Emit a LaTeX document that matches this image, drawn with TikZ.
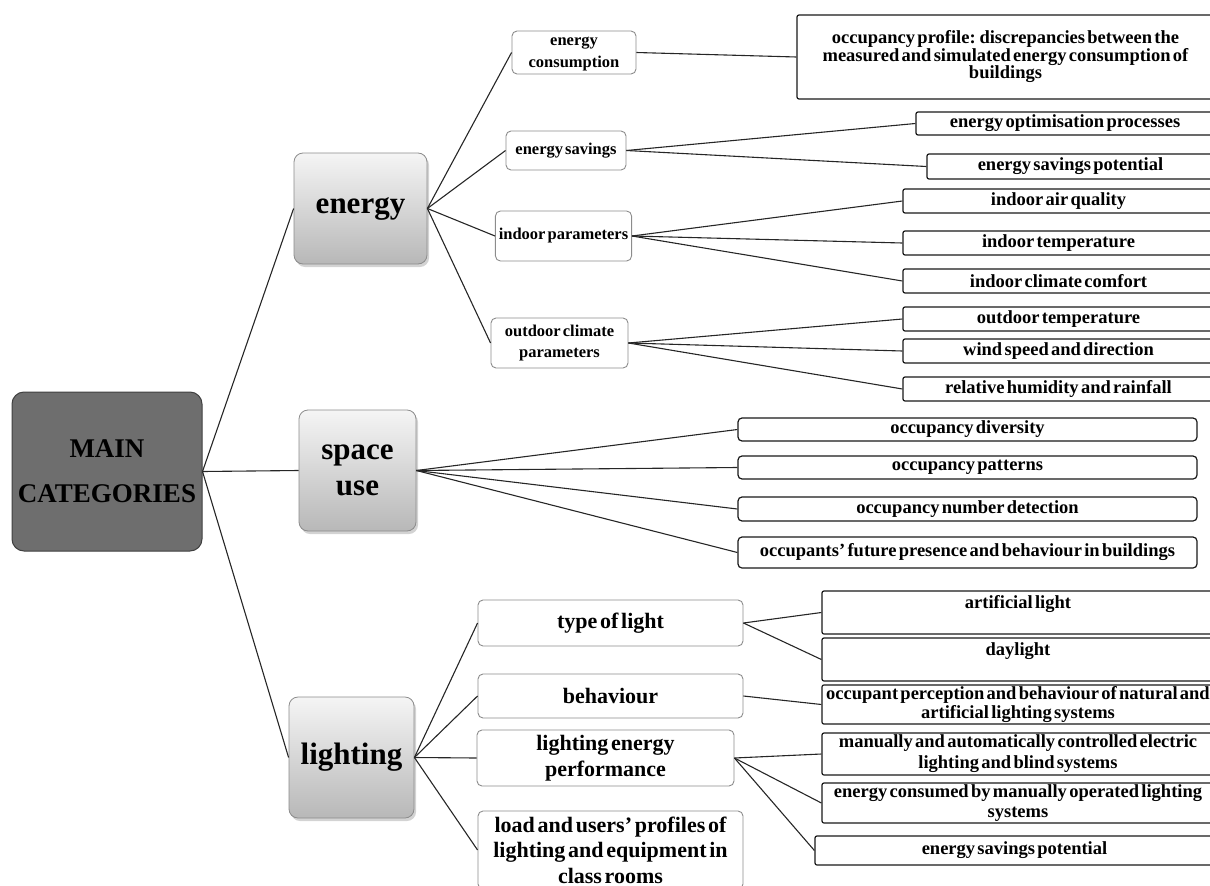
\documentclass[tikz,border=0pt]{standalone}
\usepackage{fontspec}
\setmainfont[WordSpace=0.5]{Liberation Serif}
\usepackage{tikz}
\usetikzlibrary{shadows}
\usepackage{xcolor}
\begin{document}
\begin{tikzpicture}[x=1pt,y=1pt,yscale=-1,
    mainbox/.style={draw=black!75,fill=black!57,rounded corners=12pt,line width=1pt,
      minimum width=190pt,minimum height=159pt,align=center,
      font=\bfseries\fontsize{27}{45}\selectfont},
    catbox/.style={draw=black!45,top color=black!4,bottom color=black!28,rounded corners=9pt,
      line width=0.8pt,drop shadow={opacity=0.35,shadow xshift=2pt,shadow yshift=-3pt},
      align=center,font=\bfseries\fontsize{31}{36}\selectfont},
    subbox/.style={draw=black!45,fill=white,rounded corners=5pt,line width=0.9pt,
      align=center,inner ysep=2pt,font=\bfseries\fontsize{16.5}{21.5}\selectfont},
    bigsub/.style={subbox,font=\bfseries\fontsize{22}{26}\selectfont},
    leafbox/.style={draw=black!90,fill=white,rounded corners=2pt,line width=1.2pt,
      align=center,inner ysep=1.5pt,font=\bfseries\fontsize{18.5}{19}\selectfont},
    topbox/.style={text height=14pt,text depth=22pt,inner ysep=3.5pt},
    link/.style={draw=black!85,line width=1.1pt}]
\useasboundingbox (0,0) rectangle (1210,886);
% Main node
\node [mainbox] (main) at (107,471.5) {MAIN\\CATEGORIES};
% Category nodes
\node [catbox,minimum width=133pt,minimum height=111pt] (energy) at (360.5,208.5) {energy};
\node [catbox,minimum width=117pt,minimum height=121pt] (space) at (357.5,470.5) {space\\use};
\node [catbox,minimum width=125pt,minimum height=121pt] (lighting) at (351.5,757.5) {lighting};
% energy: second level
\node [subbox,minimum width=124pt,minimum height=43pt,text depth=0pt] (econs) at (574,52.5) {energy\\consumption};
\node [subbox,minimum width=120pt,minimum height=39pt] (esav) at (566,150.5) {energy savings};
\node [subbox,minimum width=133pt,minimum height=50pt] (indoor) at (563.5,236) {indoor parameters};
\node [subbox,minimum width=137pt,minimum height=50pt] (outdoor) at (559.5,343) {outdoor climate\\parameters};
% energy: third level
\node [leafbox,minimum width=417pt,minimum height=84pt,font=\bfseries\fontsize{18.5}{17}\selectfont] (occprof) at (1005.5,57)
  {occupancy profile: discrepancies between the\\measured and simulated energy consumption of\\buildings};
\node [leafbox,minimum width=298pt,minimum height=23pt] (eopt) at (1065,123.5) {energy optimisation processes};
\node [leafbox,minimum width=287pt,minimum height=25pt] (esavpot) at (1070.5,166.5) {energy savings potential};
\node [leafbox,minimum width=311pt,minimum height=24pt] (iaq) at (1058.5,201) {indoor air quality};
\node [leafbox,minimum width=311pt,minimum height=24pt] (itemp) at (1058.5,243) {indoor temperature};
\node [leafbox,minimum width=311pt,minimum height=24pt] (icomf) at (1058.5,281) {indoor climate comfort};
\node [leafbox,minimum width=311pt,minimum height=24pt] (otemp) at (1058.5,319) {outdoor temperature};
\node [leafbox,minimum width=311pt,minimum height=24pt] (wind) at (1058.5,351) {wind speed and direction};
\node [leafbox,minimum width=311pt,minimum height=24pt] (humid) at (1058.5,389) {relative humidity and rainfall};
% space use: second level
\node [leafbox,minimum width=459pt,minimum height=23pt,rounded corners=4pt] (odiv) at (967.5,429.5) {occupancy diversity};
\node [leafbox,minimum width=459pt,minimum height=23pt,rounded corners=4pt] (opat) at (967.5,467.5) {occupancy patterns};
\node [leafbox,minimum width=459pt,minimum height=24pt,rounded corners=4pt] (onum) at (967.5,509) {occupancy number detection};
\node [leafbox,minimum width=459pt,minimum height=31pt,rounded corners=4pt] (ofut) at (967.5,552.5) {occupants' future presence and behaviour in buildings};
% lighting: second level
\node [bigsub,minimum width=265pt,minimum height=46pt] (typel) at (610.5,623) {type of light};
\node [bigsub,minimum width=265pt,minimum height=44pt] (behav) at (610.5,696) {behaviour};
\node [bigsub,minimum width=257pt,minimum height=56pt] (lep) at (605.5,758) {lighting energy\\performance};
\node [bigsub,minimum width=265pt,minimum height=78pt,font=\bfseries\fontsize{22}{25.5}\selectfont] (load) at (610.5,850)
  {load and users' profiles of\\lighting and equipment in\\class rooms};
% lighting: third level
\node [leafbox,topbox,minimum width=392pt,minimum height=43pt] (artl) at (1018,612.5) {artificial light};
\node [leafbox,topbox,minimum width=392pt,minimum height=43pt] (dayl) at (1018,659.5) {daylight};
\node [leafbox,minimum width=392pt,minimum height=39pt] (perc) at (1018,704.5)
  {occupant perception and behaviour of natural and\\artificial lighting systems};
\node [leafbox,minimum width=392pt,minimum height=42pt,font=\bfseries\fontsize{18.5}{21}\selectfont] (manual) at (1018,754)
  {manually and automatically controlled electric\\lighting and blind systems};
\node [leafbox,minimum width=392pt,minimum height=40pt,font=\bfseries\fontsize{18.5}{20}\selectfont] (econsum) at (1018,803)
  {energy consumed by manually operated lighting\\systems};
\node [leafbox,minimum width=399pt,minimum height=29pt] (lsavpot) at (1014.5,850.5) {energy savings potential};
% Connectors
\foreach \c in {energy,space,lighting} \path [link] (main.east) -- (\c.west);
\foreach \c in {econs,esav,indoor,outdoor} \path [link] (energy.east) -- (\c.west);
\foreach \c in {odiv,opat,onum,ofut} \path [link] (space.east) -- (\c.west);
\foreach \c in {typel,behav,lep,load} \path [link] (lighting.east) -- (\c.west);
\path [link] (econs.east) -- (occprof.west);
\foreach \c in {eopt,esavpot} \path [link] (esav.east) -- (\c.west);
\foreach \c in {iaq,itemp,icomf} \path [link] (indoor.east) -- (\c.west);
\foreach \c in {otemp,wind,humid} \path [link] (outdoor.east) -- (\c.west);
\foreach \c in {artl,dayl} \path [link] (typel.east) -- (\c.west);
\path [link] (behav.east) -- (perc.west);
\foreach \c in {manual,econsum,lsavpot} \path [link] (lep.east) -- (\c.west);
\end{tikzpicture}
\end{document}
